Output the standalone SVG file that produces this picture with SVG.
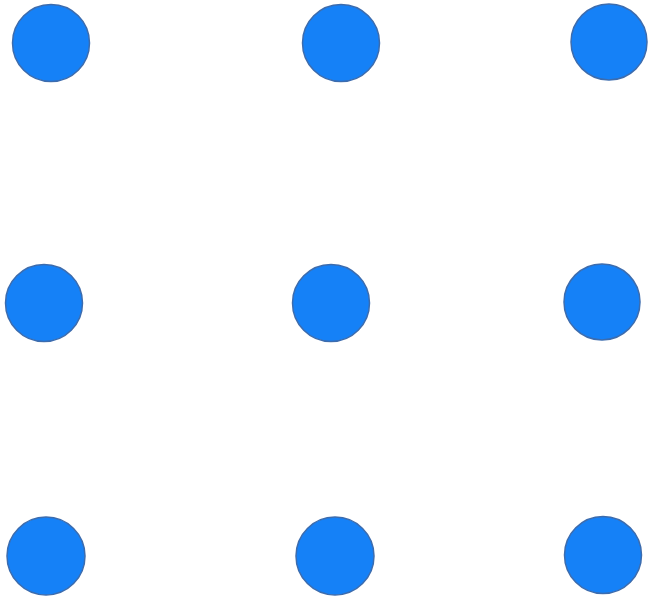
<svg xmlns="http://www.w3.org/2000/svg" width="649" height="600" viewBox="0 0 649 600">
<style>
.dot{fill:#1581f7;stroke:#3c6cae;stroke-width:1.5}
</style>
<rect width="649" height="600" fill="#ffffff"/>
<g id="n1"><circle class="dot" cx="51" cy="43" r="38.5"/></g>
<g id="n2"><circle class="dot" cx="341" cy="43" r="38.5"/></g>
<g id="n3"><circle class="dot" cx="609" cy="42" r="38"/></g>
<g id="n4"><circle class="dot" cx="44" cy="303" r="38.5"/></g>
<g id="n5"><circle class="dot" cx="331" cy="303" r="38.5"/></g>
<g id="n6"><circle class="dot" cx="602" cy="302" r="38"/></g>
<g id="n7"><circle class="dot" cx="46" cy="556" r="39"/></g>
<g id="n8"><circle class="dot" cx="335" cy="556" r="39"/></g>
<g id="n9"><circle class="dot" cx="603" cy="555" r="38.5"/></g>
<g id="connectors"/>
</svg>
